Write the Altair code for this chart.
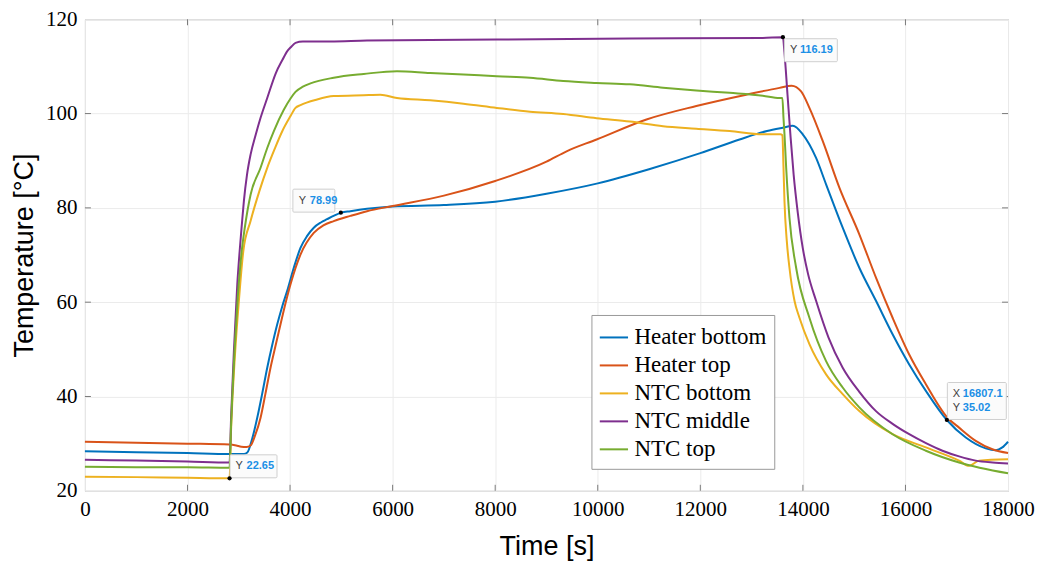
import altair as alt
import pandas as pd

# ---------------- data ----------------
series_names = ["Heater bottom", "Heater top", "NTC bottom", "NTC middle", "NTC top"]
series_colors = ["#0072BD", "#D95319", "#EDB120", "#7E2F8E", "#77AC30"]

hb_t = [0, 1000, 2000, 2820, 3000, 3100, 3166, 3260, 3360, 3455, 3555, 3650, 3750, 3850, 3944,
        4073, 4203, 4330, 4462, 4600, 4722, 4870, 5000, 5176, 5500, 6000, 7000, 8000, 9000,
        10000, 11000, 12000, 12765, 13300, 13608, 13803, 13997, 14257, 14452, 14776, 15100,
        15425, 15749, 16073, 16398, 16807, 17176, 17565, 17760, 17889, 18000]
hb_v = [28.4, 28.2, 28.0, 27.8, 27.8, 27.8, 28.1, 31.0, 35.5, 40.5, 46.1, 50.8, 55.3, 59.2, 62.4,
        67.3, 71.5, 74.0, 75.8, 76.9, 77.6, 78.4, 78.99, 79.3, 79.8, 80.3, 80.6, 81.3, 83.0,
        85.2, 88.2, 91.6, 94.5, 96.3, 97.0, 97.4, 95.6, 90.6, 85.0, 75.8, 67.3,
        60.3, 53.2, 46.8, 41.2, 35.02, 31.3, 29.0, 28.6, 29.2, 30.4]

ht_t = [0, 1000, 2000, 2820, 2950, 3050, 3150, 3230, 3320, 3425, 3520, 3619, 3720, 3814, 3910,
        4009, 4203, 4462, 4650, 4851, 5176, 5500, 6000, 7000, 8000, 9000, 9392, 9977, 10950,
        11922, 12895, 13544, 13780, 13965, 14127, 14386, 14711, 15100, 15425, 15749, 16073,
        16398, 16819, 17045, 17370, 17695, 18000]
ht_v = [30.4, 30.2, 30.0, 29.8, 29.6, 29.35, 29.3, 29.6, 31.8, 35.5, 40.6, 46.1, 50.9, 55.3, 59.7,
        63.8, 70.1, 74.7, 76.3, 77.2, 78.3, 79.3, 80.4, 82.6, 85.7, 89.8, 92.0, 94.5, 98.75,
        101.6, 104.0, 105.45, 105.9, 104.7, 101.2, 94.2, 84.3, 74.4, 65.2, 56.7, 48.9,
        42.6, 35.5, 33.4, 30.6, 28.8, 28.0]

nb_t = [0, 1000, 2000, 2820, 2850, 2931, 3000, 3088, 3230, 3400, 3555, 3700, 3850, 4000, 4106,
        4203, 4528, 4851, 5436, 5760, 6085, 6733, 7381, 8031, 8679, 9327, 9977, 10625, 11273, 11922,
        12571, 13219, 13560, 13600, 13622, 13641, 13686, 13738, 13836, 13933, 14127, 14452,
        14776, 15100, 15749, 16398, 17046, 17240, 17435, 18000]
nb_v = [23.0, 22.9, 22.75, 22.65, 33.0, 49.7, 60.0, 70.8, 77.2, 83.5, 88.5, 92.5, 96.3, 99.3, 101.2,
        101.8, 103.0, 103.7, 103.9, 104.0, 103.3, 102.8, 102.1, 101.2, 100.4, 99.9, 99.0, 98.3, 97.3, 96.8,
        96.3, 95.6, 95.6, 95.4, 88.5, 81.4, 73.0, 67.3, 60.3, 56.7, 51.1, 44.7,
        40.5, 36.9, 32.0, 29.2, 26.4, 25.3, 26.4, 26.7]

nm_t = [0, 1000, 2000, 2820, 2850, 2905, 2971, 3022, 3060, 3100, 3160, 3230, 3330, 3425, 3555,
        3723, 3852, 3950, 4009, 4106, 4250, 4787, 5500, 8031, 10625, 13219, 13610, 13640, 13700,
        13760, 13820, 13900, 13997, 14100, 14257, 14500, 14776, 15100, 15425, 15749, 16073,
        16400, 16721, 17046, 17371, 17700, 18000]
nm_v = [26.6, 26.4, 26.2, 26.0, 35.5, 49.7, 63.8, 71.5, 76.5, 81.5, 87.0, 91.3, 95.5, 99.1, 103.3,
        108.6, 111.4, 113.3, 114.0, 115.0, 115.3, 115.3, 115.5, 115.7, 115.9, 116.05, 116.19, 113.0, 104.0,
        95.0, 87.0, 79.0, 71.5, 66.0, 60.3, 52.5, 46.1, 41.0, 36.9, 34.2, 32.0,
        30.1, 28.5, 27.3, 26.4, 26.0, 25.8]

nt_t = [0, 1000, 2000, 2820, 2850, 2918, 2980, 3049, 3120, 3230, 3425, 3555, 3684, 3878, 4009,
        4106, 4250, 4398, 4851, 5436, 6085, 6733, 7381, 8031, 8679, 9327, 9977, 10625, 11273, 11922,
        12571, 13219, 13544, 13600, 13622, 13641, 13674, 13738, 13868, 14127, 14452, 14776,
        15100, 15749, 16398, 17046, 18000]
nt_v = [25.1, 25.0, 25.0, 24.9, 34.0, 49.7, 61.0, 70.0, 76.0, 82.8, 88.5, 92.7, 96.3, 100.8, 103.2,
        104.6, 105.7, 106.4, 107.6, 108.4, 109.0, 108.6, 108.3, 107.9, 107.6, 106.9, 106.5, 106.2, 105.5, 104.9,
        104.4, 103.8, 103.3, 103.3, 99.0, 95.6, 88.5, 77.9, 67.3, 56.7, 47.5, 41.9,
        37.7, 32.0, 28.5, 26.0, 23.7]

# data tips
tip_t = [2820, 4990, 13610, 16807.1]
tip_v = [22.65, 78.99, 116.19, 35.02]
tip_x_text = ["", "", "", "16807.1"]
tip_y_text = ["22.65", "78.99", "116.19", "35.02"]

x_ticks = [0, 2000, 4000, 6000, 8000, 10000, 12000, 14000, 16000, 18000]
y_ticks = [20, 40, 60, 80, 100, 120]

# ---------------- build table ----------------
rows = []
for name, ts, vs in zip(series_names, [hb_t, ht_t, nb_t, nm_t, nt_t], [hb_v, ht_v, nb_v, nm_v, nt_v]):
    for i, (t, v) in enumerate(zip(ts, vs)):
        rows.append({"t": t, "v": v, "series": name, "order": i})
df = pd.DataFrame(rows)

W, H = 924, 472

xscale = alt.Scale(domain=[0, 18000], nice=False, zero=False)
yscale = alt.Scale(domain=[20, 120], nice=False, zero=False)
x_axis = alt.Axis(values=x_ticks, format="d", labelOverlap=False, labelFlush=False)
y_axis = alt.Axis(values=y_ticks, format="d", labelOverlap=False, labelFlush=False)


def X():
    return alt.X("t:Q", scale=xscale, title="Time [s]", axis=x_axis)


def Y():
    return alt.Y("v:Q", scale=yscale, title="Temperature [°C]", axis=y_axis)


lines = alt.Chart(df).mark_line(strokeWidth=2, interpolate="monotone").encode(
    x=X(), y=Y(),
    color=alt.Color("series:N",
                    scale=alt.Scale(domain=series_names, range=series_colors),
                    legend=alt.Legend(title=None, orient="none", legendX=507, legendY=296,
                                      symbolType="stroke", symbolSize=800, symbolStrokeWidth=2,
                                      labelFont="Liberation Serif", labelFontSize=23,
                                      labelColor="#000000", labelOffset=5,
                                      strokeColor="#9a9a9a", fillColor="#ffffff",
                                      padding=7, rowPadding=0)),
    order="order:Q",
)

# inward ticks on all four sides
xt_df = pd.DataFrame({"t": x_ticks[1:-1]})
yt_df = pd.DataFrame({"v": y_ticks[1:-1]})
tick_color = "#7a7a7a"
xb = alt.Chart(xt_df).mark_rule(color=tick_color, strokeWidth=1).encode(
    x=X(), y=alt.value(H), y2=alt.value(H - 6))
xtop = alt.Chart(xt_df).mark_rule(color=tick_color, strokeWidth=1).encode(
    x=X(), y=alt.value(0), y2=alt.value(6))
yl = alt.Chart(yt_df).mark_rule(color=tick_color, strokeWidth=1).encode(
    y=Y(), x=alt.value(0), x2=alt.value(6))
yr = alt.Chart(yt_df).mark_rule(color=tick_color, strokeWidth=1).encode(
    y=Y(), x=alt.value(W), x2=alt.value(W - 6))

# data tips: box size/offset, label/value dx, row dy
tip_styles = [
    dict(w=47, h=23, bx=24, by=-12, lx=6, vx=17, ys=[-12]),
    dict(w=42, h=23, bx=-27, by=-12, lx=-42, vx=-31, ys=[-12]),
    dict(w=53, h=23, bx=28, by=13, lx=7, vx=17, ys=[13]),
    dict(w=59, h=37, bx=30, by=-19, lx=6, vx=16, ys=[-26, -12]),
]
tip_layers = []
blue = "#1a8fe6"
for i, st in enumerate(tip_styles):
    d = pd.DataFrame({"t": [tip_t[i]], "v": [tip_v[i]], "xs": [tip_x_text[i]], "ys": [tip_y_text[i]]})
    base = alt.Chart(d).encode(x=X(), y=Y())
    tip_layers.append(base.mark_rect(width=st["w"], height=st["h"], xOffset=st["bx"], yOffset=st["by"],
                                     fill="#fbfbfb", stroke="#cfcfcf", strokeWidth=1, cornerRadius=1))
    if len(st["ys"]) == 2:
        tip_layers.append(base.mark_text(text="X", align="left", baseline="middle", dx=st["lx"], dy=st["ys"][0],
                                         font="Liberation Sans", fontSize=11, color="#404040"))
        tip_layers.append(base.mark_text(align="left", baseline="middle", dx=st["vx"], dy=st["ys"][0],
                                         font="Liberation Sans", fontSize=11, fontWeight="bold",
                                         color=blue).encode(text="xs:N"))
    tip_layers.append(base.mark_text(text="Y", align="left", baseline="middle", dx=st["lx"], dy=st["ys"][-1],
                                     font="Liberation Sans", fontSize=11, color="#404040"))
    tip_layers.append(base.mark_text(align="left", baseline="middle", dx=st["vx"], dy=st["ys"][-1],
                                     font="Liberation Sans", fontSize=11, fontWeight="bold",
                                     color=blue).encode(text="ys:N"))
    tip_layers.append(base.mark_circle(size=18, color="#000000", opacity=1))

chart = alt.layer(lines, xb, xtop, yl, yr, *tip_layers).properties(
    width=W, height=H,
    autosize=alt.AutoSizeParams(type="none"),
    padding={"left": 77, "top": 11, "right": 30, "bottom": 70},
).configure_view(
    stroke="#a6a6a6", strokeWidth=1
).configure_axis(
    domain=False, ticks=False, grid=True, gridColor="#ebebeb", gridWidth=1,
    labelFont="Liberation Serif", labelFontSize=21, labelColor="#000000", labelPadding=8,
    titleFont="Liberation Sans", titleFontSize=27, titleFontWeight="normal", titleColor="#000000",
).configure_axisX(titlePadding=14).configure_axisY(titlePadding=7)

chart.save("out.html", embed_options={"renderer": "svg", "actions": False})
